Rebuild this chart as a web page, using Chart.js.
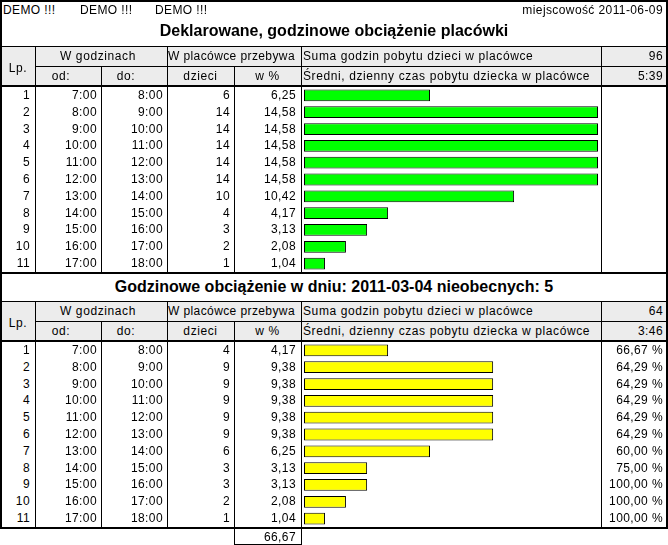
<!DOCTYPE html>
<html>
<head>
<meta charset="utf-8">
<script src="https://cdn.jsdelivr.net/npm/chart.js@4"></script>
<style>
  body { margin: 0; background: #fff; }
  #page { position: relative; width: 668px; height: 545px; overflow: hidden;
          font-family: "Liberation Sans", Arial, sans-serif; font-size: 12px; color: #000; }
  .t { position: absolute; white-space: nowrap; letter-spacing: 0.4px; }
  .wide { letter-spacing: 0.6px; }
  .ln { position: absolute; background: #000; }
  .hd { position: absolute; background: #ececec; }
  .title { font-weight: bold; font-size: 16px; letter-spacing: 0; }
  canvas { position: absolute; }
</style>
</head>
<body>
<div id="page">
  <canvas id="declChart"></canvas>
  <canvas id="dayChart"></canvas>
</div>
<script>
const lp = [1, 2, 3, 4, 5, 6, 7, 8, 9, 10, 11];
const hourFrom = ['7:00', '8:00', '9:00', '10:00', '11:00', '12:00', '13:00', '14:00', '15:00', '16:00', '17:00'];
const hourTo = ['8:00', '9:00', '10:00', '11:00', '12:00', '13:00', '14:00', '15:00', '16:00', '17:00', '18:00'];

const declChildren = [6, 14, 14, 14, 14, 14, 10, 4, 3, 2, 1];
const declPercent = [6.25, 14.58, 14.58, 14.58, 14.58, 14.58, 10.42, 4.17, 3.13, 2.08, 1.04];
const declSum = '96';
const declAvg = '5:39';

const dayChildren = [4, 9, 9, 9, 9, 9, 6, 3, 3, 2, 1];
const dayPercent = [4.17, 9.38, 9.38, 9.38, 9.38, 9.38, 6.25, 3.13, 3.13, 2.08, 1.04];
const dayAttendance = [66.67, 64.29, 64.29, 64.29, 64.29, 64.29, 60.00, 75.00, 100.00, 100.00, 100.00];
const daySum = '64';
const dayAvg = '3:46';
const dayTotal = 66.67;

// column edges
const cols = [1, 35, 101, 167, 234, 301, 601, 666];
const rowH = 16.8;

const page = document.getElementById('page');

function fmt(v) {
  return v.toFixed(2).replace('.', ',');
}

function box(cls, x, y, w, h) {
  const d = document.createElement('div');
  d.className = cls;
  d.style.left = x + 'px';
  d.style.top = y + 'px';
  d.style.width = w + 'px';
  d.style.height = h + 'px';
  page.appendChild(d);
  return d;
}

function txt(text, x, y, w, h, align, extra) {
  const d = box('t' + (extra ? ' ' + extra : ''), x, y, w, h);
  d.style.lineHeight = h + 'px';
  d.style.textAlign = align || 'left';
  d.textContent = text;
  return d;
}

function drawTable(top, sum, avg, children, percent, extraCol) {
  const hMid = top + 20;
  const hEnd = top + 40;
  const dataTop = hEnd + 1;
  const dataEnd = dataTop + rowH * 11;

  // header backgrounds
  box('hd', 2, top, 664, 40);

  // header texts
  txt('Lp.', cols[0], top + 2, cols[1] - cols[0], 40, 'center', 'wide');
  txt('W godzinach', cols[1], top, cols[3] - cols[1] - 6, 20, 'center', 'wide');
  txt('od:', cols[1], hMid, cols[2] - cols[1] - 14, 20, 'center', 'wide');
  txt('do:', cols[2], hMid, cols[3] - cols[2] - 16, 20, 'center', 'wide');
  txt('W placówce przebywa', cols[3] + 1, top, cols[5] - cols[3], 20, 'left');
  txt('dzieci', cols[3], hMid, cols[4] - cols[3], 20, 'center', 'wide');
  txt('w %', cols[4], hMid, cols[5] - cols[4], 20, 'center', 'wide');
  txt('Suma godzin pobytu dzieci w placówce', cols[5] + 2, top, 290, 20, 'left', 'wide');
  txt('Średni, dzienny czas pobytu dziecka w placówce', cols[5] + 2, hMid, 297, 20, 'left', 'wide');
  txt(sum, cols[6], top, cols[7] - cols[6] - 3, 20, 'right');
  txt(avg, cols[6], hMid, cols[7] - cols[6] - 3, 20, 'right');

  // data rows
  lp.forEach(function(n, i) {
    const y = dataTop + i * rowH;
    txt(String(n), cols[0], y, cols[1] - cols[0] - 5, rowH, 'right');
    txt(hourFrom[i], cols[1], y, cols[2] - cols[1] - 4, rowH, 'right');
    txt(hourTo[i], cols[2], y, cols[3] - cols[2] - 4, rowH, 'right');
    txt(String(children[i]), cols[3], y, cols[4] - cols[3] - 4, rowH, 'right');
    txt(fmt(percent[i]), cols[4], y, cols[5] - cols[4] - 5, rowH, 'right');
    if (extraCol) {
      txt(fmt(extraCol[i]) + ' %', cols[6], y, cols[7] - cols[6] - 3, rowH, 'right');
    }
  });

  // grid lines
  box('ln', 0, top, 668, 1);
  box('ln', cols[1], hMid, cols[7] - cols[1], 1);
  box('ln', 0, hEnd - 1, 668, 2);
  box('ln', 0, Math.round(dataEnd), 668, 2);
  box('ln', cols[1], top, 1, dataEnd - top);
  box('ln', cols[2], hMid, 1, dataEnd - hMid);
  box('ln', cols[3], top, 1, dataEnd - top);
  box('ln', cols[4], hMid, 1, dataEnd - hMid);
  box('ln', cols[5], top, 1, dataEnd - top);
  box('ln', cols[6], top, 1, dataEnd - top);

  return { dataTop: dataTop, dataEnd: dataEnd };
}

function makeChart(id, top, values, color) {
  const canvas = document.getElementById(id);
  const w = cols[6] - cols[5] - 1;
  const h = Math.round(rowH * 11);
  canvas.style.left = (cols[5] + 1) + 'px';
  canvas.style.top = top + 'px';
  canvas.style.width = w + 'px';
  canvas.style.height = h + 'px';
  canvas.width = w;
  canvas.height = h;
  new Chart(canvas.getContext('2d'), {
    type: 'bar',
    data: {
      labels: lp.map(String),
      datasets: [{
        data: values,
        backgroundColor: color,
        borderColor: '#000',
        borderWidth: 1,
        borderSkipped: false,
        barPercentage: 0.7,
        categoryPercentage: 1
      }]
    },
    options: {
      indexAxis: 'y',
      responsive: false,
      animation: false,
      layout: { padding: { left: 2, right: 3, top: 0, bottom: 0 } },
      scales: {
        // both tables share the declared maximum as full width
        x: { display: false, min: 0, max: Math.max.apply(null, declPercent) },
        y: { display: false }
      },
      plugins: {
        legend: { display: false },
        tooltip: { enabled: false }
      }
    }
  });
}

// top part
txt('DEMO !!!', 3, 2, 60, 16, 'left');
txt('DEMO !!!', 80, 2, 60, 16, 'left');
txt('DEMO !!!', 155, 2, 60, 16, 'left');
txt('miejscowość 2011-06-09', 450, 2, 213, 16, 'right');
txt('Deklarowane, godzinowe obciążenie placówki', 0, 20, 668, 22, 'center', 'title');

const t1 = drawTable(46, declSum, declAvg, declChildren, declPercent, null);
makeChart('declChart', t1.dataTop, declPercent, '#00ff00');

txt('Godzinowe obciążenie w dniu: 2011-03-04 nieobecnych: 5', 0, 276, 668, 22, 'center', 'title');

const t2 = drawTable(301, daySum, dayAvg, dayChildren, dayPercent, dayAttendance);
makeChart('dayChart', t2.dataTop, dayPercent, '#ffff00');

// total under w %
box('ln', cols[4], Math.round(t2.dataEnd) + 2, 1, 20);
box('ln', cols[5], Math.round(t2.dataEnd) + 2, 1, 20);
box('ln', cols[4], 544, cols[5] - cols[4] + 1, 1);
txt(fmt(dayTotal), cols[4], Math.round(t2.dataEnd) + 2, cols[5] - cols[4] - 5, 16, 'right');

// outer frame
box('ln', 0, 0, 668, 2);
box('ln', 0, 0, 2, Math.round(t2.dataEnd) + 2);
box('ln', 666, 0, 2, Math.round(t2.dataEnd) + 2);
</script>
</body>
</html>
